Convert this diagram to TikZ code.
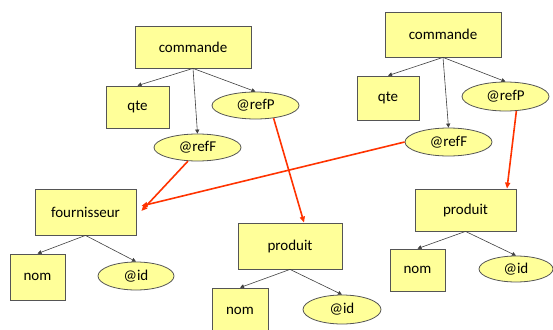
\documentclass[tikz,border=0pt]{standalone}
\usepackage{fontspec}
\setmainfont{Carlito}
\usetikzlibrary{arrows.meta,shapes.geometric}
\definecolor{boxfill}{HTML}{FFFF99}
\definecolor{boxline}{HTML}{555555}
\definecolor{refred}{HTML}{FF3300}
\begin{document}
\begin{tikzpicture}[x=1pt,y=-1pt,
  every node/.style={font=\fontsize{15}{18}\selectfont, inner sep=0pt},
  elem/.style={draw=boxline, fill=boxfill, line width=0.8pt, rectangle},
  attr/.style={draw=boxline, fill=boxfill, line width=0.8pt, ellipse},
  tree/.style={draw=black!75, line width=0.6pt, -{Triangle[length=4pt,width=4pt]}},
  ref/.style={draw=refred, line width=1.6pt, -{Triangle[length=6pt,width=5pt]}}]
\clip (0,0) rectangle (553,329);
\fill[white] (0,0) rectangle (553,329);
% left commande
\node[elem, minimum width=116pt, minimum height=42pt] (c1) at (193,47) {commande};
\node[elem, minimum width=63pt, minimum height=42pt] (q1) at (137.5,107) {qte};
\node[attr, minimum width=87pt, minimum height=27pt] (rp1) at (255.5,105.5) {@refP};
\node[attr, minimum width=87pt, minimum height=27pt] (rf1) at (197.5,147.5) {@refF};
% right commande
\node[elem, minimum width=116pt, minimum height=45pt] (c2) at (443,34.5) {commande};
\node[elem, minimum width=62pt, minimum height=44pt] (q2) at (388,98) {qte};
\node[attr, minimum width=87pt, minimum height=29pt] (rp2) at (505.5,96.5) {@refP};
\node[attr, minimum width=87pt, minimum height=28pt] (rf2) at (448.5,142) {@refF};
% fournisseur
\node[elem, minimum width=101pt, minimum height=46pt] (f) at (85.5,212) {fournisseur};
\node[elem, minimum width=55pt, minimum height=46pt] (n1) at (37.5,277) {nom};
\node[attr, minimum width=76pt, minimum height=28pt] (id1) at (136,276) {@id};
% produit middle
\node[elem, minimum width=104pt, minimum height=46pt] (p1) at (290,246) {produit};
\node[elem, minimum width=56pt, minimum height=46pt] (n2) at (240,311) {nom};
\node[attr, minimum width=78pt, minimum height=29pt] (id2) at (342,309.5) {@id};
% produit right
\node[elem, minimum width=101pt, minimum height=42pt] (p2) at (465.5,210) {produit};
\node[elem, minimum width=55pt, minimum height=42pt] (n3) at (417.5,270) {nom};
\node[attr, minimum width=74pt, minimum height=26pt] (id3) at (516,269) {@id};
% tree arrows
\draw[tree] (c1.south) -- (q1.north);
\draw[tree] (c1.south) -- (rf1.north);
\draw[tree] (c1.south) -- (rp1.north);
\draw[tree] (c2.south) -- (q2.north);
\draw[tree] (c2.south) -- (rf2.north);
\draw[tree] (c2.south) -- (rp2.north);
\draw[tree] (f.south) -- (n1.north);
\draw[tree] (f.south) -- (id1.north);
\draw[tree] (p1.south) -- (n2.north);
\draw[tree] (p1.south) -- (id2.north);
\draw[tree] (p2.south) -- (n3.north);
\draw[tree] (p2.south) -- (id3.north);
% reference arrows
\draw[ref] (rf1.-125) -- ([shift={(5pt,1pt)}]f.east);
\draw[ref] (rf2.west) -- ([shift={(5pt,6pt)}]f.east);
\draw[ref] (rp1.-35) -- ([xshift=14pt]p1.north);
\draw[ref] (rp2.-53) -- ([xshift=41.5pt]p2.north);
\end{tikzpicture}
\end{document}
